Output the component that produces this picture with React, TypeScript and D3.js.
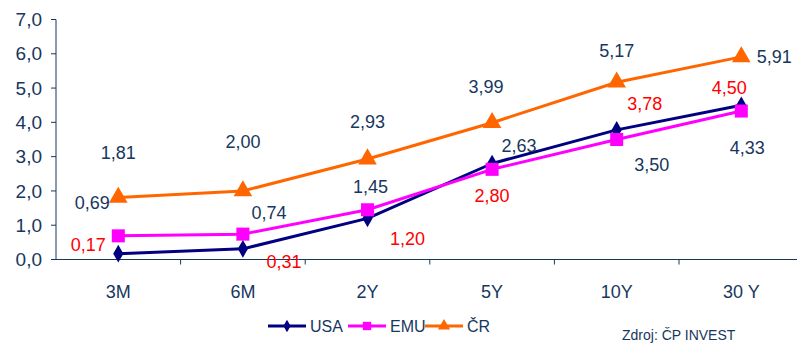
import React from "react";
import * as d3 from "d3";

const categories = ["3M", "6M", "2Y", "5Y", "10Y", "30 Y"];
const usa = [0.17, 0.31, 1.2, 2.8, 3.78, 4.5];
const emu = [0.69, 0.74, 1.45, 2.63, 3.5, 4.33];
const cr = [1.81, 2.0, 2.93, 3.99, 5.17, 5.91];
const yTicks = [0, 1, 2, 3, 4, 5, 6, 7];

// label offsets (layout only), relative to each marker
const crLabelOff = [[0, -45], [0, -49], [0, -37], [-6, -36], [0, -32], [33, 0]];
const emuLabelOff = [[-26, -33], [26, -21], [3, -23], [27, -24], [35, 25], [6, 37]];
const usaLabelOff = [[-30, -9], [41, 13], [40, 20], [0, 32], [28, -26], [-12, -18]];

const NAVY_TEXT = "#17375E";
const fmt = (v: number) => v.toFixed(2).replace(".", ",");

export default function App() {
  const W = 797, H = 344;
  const x0 = 56, x1 = 56 + 6 * 124.6;
  const x = d3.scaleBand<string>().domain(categories).range([x0, x1]);
  const y = d3.scaleLinear().domain([0, 7]).range([259.5, 19.5]);
  const cx = (c: string) => (x(c) as number) + x.bandwidth() / 2;
  const line = d3.line<number>().x((_, i) => cx(categories[i])).y((d) => y(d));

  const series = [
    { name: "USA", data: usa, color: "#000080", marker: "diamond", labelColor: "#FF0000", off: usaLabelOff },
    { name: "EMU", data: emu, color: "#FF00FF", marker: "square", labelColor: NAVY_TEXT, off: emuLabelOff },
    { name: "ČR", data: cr, color: "#FF6600", marker: "triangle", labelColor: NAVY_TEXT, off: crLabelOff },
  ];

  const sym = (m: string) => {
    if (m === "diamond") return d3.symbol().type(d3.symbolDiamond).size(90)() as string;
    if (m === "square") return d3.symbol().type(d3.symbolSquare).size(170)() as string;
    return d3.symbol().type(d3.symbolTriangle).size(150)() as string;
  };
  const legSym = (m: string) => {
    if (m === "diamond") return d3.symbol().type(d3.symbolDiamond).size(45)() as string;
    if (m === "square") return d3.symbol().type(d3.symbolSquare).size(70)() as string;
    return d3.symbol().type(d3.symbolTriangle).size(65)() as string;
  };

  const font = "'Liberation Sans', Arial, sans-serif";
  const legendX = [268, 348, 425];

  return (
    <svg width={W} height={H} style={{ position: "absolute", left: 0, top: 0, background: "#fff" }} fontFamily={font}>
      {/* y axis */}
      <line x1={x0} x2={x0} y1={y(7)} y2={y(0)} stroke={NAVY_TEXT} strokeWidth={1} />
      {yTicks.map((t) => (
        <g key={t}>
          <line x1={x0 - 5} x2={x0} y1={y(t)} y2={y(t)} stroke={NAVY_TEXT} />
          <text x={42} y={y(t)} dy="0.35em" textAnchor="end" fontSize={19} fill={NAVY_TEXT}>
            {t.toFixed(1).replace(".", ",")}
          </text>
        </g>
      ))}
      {/* x axis */}
      <line x1={x0} x2={W} y1={y(0)} y2={y(0)} stroke={NAVY_TEXT} strokeWidth={1} />
      {categories.map((c, i) => (
        <g key={c}>
          {i > 0 && <line x1={x(c)} x2={x(c)} y1={y(0)} y2={y(0) + 5} stroke={NAVY_TEXT} />}
          <text x={cx(c)} y={298} textAnchor="middle" fontSize={18} fill={NAVY_TEXT}>{c}</text>
        </g>
      ))}
      {/* lines */}
      {series.map((s) => (
        <path key={s.name} d={line(s.data) as string} fill="none" stroke={s.color} strokeWidth={3} strokeLinejoin="round" />
      ))}
      {series.map((s) =>
        s.data.map((v, i) => (
          <path key={s.name + i} d={sym(s.marker)} transform={`translate(${cx(categories[i])},${y(v)})`} fill={s.color} />
        ))
      )}
      {/* data labels */}
      {series.map((s) =>
        s.data.map((v, i) => (
          <text key={"l" + s.name + i} x={cx(categories[i]) + s.off[i][0]} y={y(v) + s.off[i][1]} dy="0.35em"
            textAnchor="middle" fontSize={18} fill={s.labelColor}>
            {fmt(v)}
          </text>
        ))
      )}
      {/* legend */}
      {series.map((s, i) => (
        <g key={"leg" + s.name}>
          <line x1={legendX[i]} x2={legendX[i] + 38} y1={326} y2={326} stroke={s.color} strokeWidth={3} />
          <path d={legSym(s.marker)} transform={`translate(${legendX[i] + 19},326)`} fill={s.color} />
          <text x={legendX[i] + 42} y={326} dy="0.35em" fontSize={16} fill={NAVY_TEXT}>{s.name}</text>
        </g>
      ))}
      <text x={622} y={340} fontSize={14} fill={NAVY_TEXT}>Zdroj: ČP INVEST</text>
    </svg>
  );
}
